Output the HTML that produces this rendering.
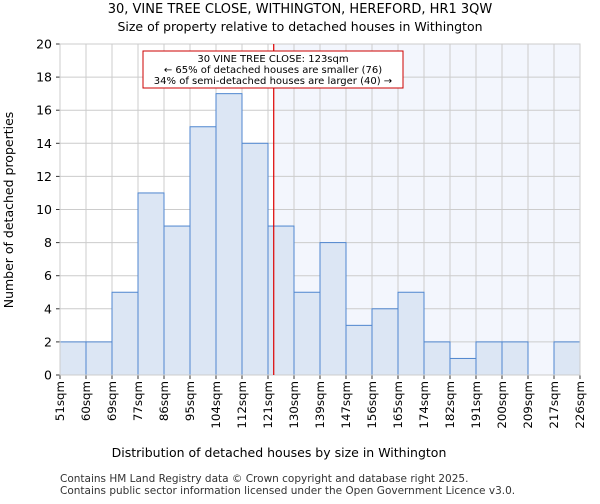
<!DOCTYPE html>
<html><head><meta charset="utf-8"><style>
body{margin:0;background:#fff;font-family:"DejaVu Sans","Liberation Sans",sans-serif}
</style></head><body>
<svg width="600" height="500" viewBox="0 0 600 500" font-family="DejaVu Sans, Liberation Sans, sans-serif">
<g id="bg"></g><g id="grid"></g><g id="bars"></g><g id="axes"></g>
<text x="300" y="13" font-size="13" text-anchor="middle">30, VINE TREE CLOSE, WITHINGTON, HEREFORD, HR1 3QW</text>
<text x="300" y="31" font-size="12.5" text-anchor="middle">Size of property relative to detached houses in Withington</text>
<text x="279" y="457" font-size="12.5" text-anchor="middle">Distribution of detached houses by size in Withington</text>
<text transform="translate(13,210) rotate(-90)" font-size="12.5" text-anchor="middle">Number of detached properties</text>
<text x="60" y="482" font-size="10.5" fill="#333">Contains HM Land Registry data © Crown copyright and database right 2025.</text>
<text x="60" y="494" font-size="10.5" fill="#333">Contains public sector information licensed under the Open Government Licence v3.0.</text>
<line id="marker" stroke="#dd0000" stroke-width="1.2"/>
<rect x="143" y="51" width="260" height="37" fill="#fff" stroke="#cc0000" stroke-width="1"/>
<text x="273" y="62" font-size="10" text-anchor="middle">30 VINE TREE CLOSE: 123sqm</text>
<text x="273" y="73" font-size="10" text-anchor="middle">← 65% of detached houses are smaller (76)</text>
<text x="273" y="84" font-size="10" text-anchor="middle">34% of semi-detached houses are larger (40) →</text>
</svg>
<script>
const binLabels=["51sqm","60sqm","69sqm","77sqm","86sqm","95sqm","104sqm","112sqm","121sqm","130sqm","139sqm","147sqm","156sqm","165sqm","174sqm","182sqm","191sqm","200sqm","209sqm","217sqm","226sqm"];
const counts=[2,2,5,11,9,15,17,14,9,5,8,3,4,5,2,1,2,2,0,2];
const yTicks=[0,2,4,6,8,10,12,14,16,18,20];
const propertyBinPos=8.22;
const NS="http://www.w3.org/2000/svg";
const X0=60,X1=580,Y0=375,Y1=44,YMAX=20;
const bw=(X1-X0)/counts.length;
const xs=i=>X0+i*bw;
const ys=v=>Y0-(v/YMAX)*(Y0-Y1);
function mk(t,a,p){const e=document.createElementNS(NS,t);for(const k in a)e.setAttribute(k,a[k]);p.appendChild(e);return e;}
const bg=document.getElementById('bg'),grid=document.getElementById('grid'),bars=document.getElementById('bars'),axes=document.getElementById('axes');
const mx=xs(propertyBinPos);
let r=mk('rect',{x:X0,y:Y1,width:X1-X0,height:Y0-Y1,fill:'#fff'},bg);


r=mk('rect',{x:mx,y:Y1,width:X1-mx,height:Y0-Y1,fill:'#f3f6fd'},bg);


binLabels.forEach((l,i)=>{
 const g=mk('line',{x1:xs(i),x2:xs(i),y1:Y1,y2:Y0,stroke:'#cccccc','stroke-width':1},grid);
 
 
 const t=mk('text',{transform:`translate(${xs(i)+4},${Y0+6}) rotate(-90)`,'font-size':11.8,'text-anchor':'end'},axes);
 t.textContent=l;
 
 
 mk('line',{x1:xs(i),x2:xs(i),y1:Y0,y2:Y0+4,stroke:'#333'},axes);
});
yTicks.forEach(v=>{
 const g=mk('line',{x1:X0,x2:X1,y1:ys(v),y2:ys(v),stroke:'#cccccc','stroke-width':1},grid);
 
 
 const t=mk('text',{x:X0-8,y:ys(v)+4.5,'font-size':12.5,'text-anchor':'end'},axes);
 t.textContent=v;
 
 
 mk('line',{x1:X0-4,x2:X0,y1:ys(v),y2:ys(v),stroke:'#333'},axes);
});
counts.forEach((c,i)=>{
 if(c<=0)return;
 const b=mk('rect',{x:xs(i),y:ys(c),width:bw,height:Y0-ys(c),fill:'#dce6f4',stroke:'#4f86cf','stroke-width':1},bars);
 
 
});
const ax=mk('path',{d:`M${X0},${Y1}V${Y0}H${X1}V${Y1}Z`,fill:'none',stroke:'#cccccc'},axes);


const m=document.getElementById('marker');
m.setAttribute('x1',mx);m.setAttribute('x2',mx);m.setAttribute('y1',Y1);m.setAttribute('y2',Y0);
</script>
</body></html>
